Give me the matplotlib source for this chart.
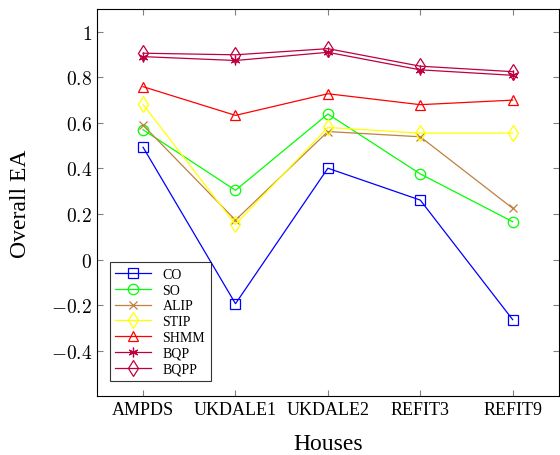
import numpy as np
import matplotlib.pyplot as plt
from matplotlib.ticker import FuncFormatter

plt.rcParams['font.family'] = ['Liberation Serif', 'DejaVu Serif']
plt.rcParams['mathtext.fontset'] = 'cm'

houses = ['AMPDS', 'UKDALE1', 'UKDALE2', 'REFIT3', 'REFIT9']
co = [0.493, -0.194, 0.401, 0.261, -0.264]
so = [0.570, 0.304, 0.639, 0.376, 0.166]
alip = [0.590, 0.173, 0.562, 0.539, 0.225]
stip = [0.681, 0.154, 0.580, 0.555, 0.555]
shmm = [0.759, 0.633, 0.728, 0.680, 0.700]
bqp = [0.891, 0.874, 0.910, 0.833, 0.809]
bqpp = [0.906, 0.899, 0.926, 0.849, 0.825]

series = [
    ('CO', co, (0, 0, 1), 's', 7),
    ('SO', so, (0, 1, 0), 'o', 7.5),
    ('ALIP', alip, (0.75, 0.5, 0.25), 'x', 5.5),
    ('STIP', stip, (1, 1, 0), 'd', 8),
    ('SHMM', shmm, (1, 0, 0), '^', 7),
    ('BQP', bqp, (0.75, 0, 0.25), (6, 2, 0), 7),
    ('BQPP', bqpp, (0.75, 0, 0.25), 'd', 8),
]

fig = plt.figure(figsize=(5.6, 4.56), dpi=100)
ax = fig.add_axes([0.173, 0.129, 0.825, 0.849])
x = np.arange(len(houses))
for name, vals, col, mk, ms in series:
    ax.plot(x, vals, color=col, marker=mk, markersize=ms, markerfacecolor='none',
            markeredgecolor=col, markeredgewidth=0.9, linewidth=0.9, label=name)

ax.set_xlim(-0.5, 4.5)
ax.set_ylim(-0.6, 1.1)
ax.set_xticks(x)
ax.set_xticklabels(houses)
ax.set_yticks(np.arange(-0.4, 1.01, 0.2))


def fmt(v, pos):
    v = round(v, 1)
    if v == 0:
        return '$0$'
    if v == 1:
        return '$1$'
    return '$%.1f$' % v


ax.yaxis.set_major_formatter(FuncFormatter(fmt))
ax.tick_params(direction='in', top=True, right=True, length=4, color='0.5',
               labelsize=13)
ax.tick_params(axis='y', labelsize=14)
ax.set_xlabel('Houses', fontsize=17, labelpad=11)
ax.set_ylabel('Overall EA', fontsize=17, labelpad=14)

leg = ax.legend(loc='lower left', bbox_to_anchor=(0.028, 0.039), fontsize=10,
                frameon=True, fancybox=False, edgecolor='black',
                handlelength=2.6, labelspacing=0.2, borderpad=0.4,
                borderaxespad=0)
leg.get_frame().set_linewidth(0.8)

fig.savefig('out.png', dpi=100)
